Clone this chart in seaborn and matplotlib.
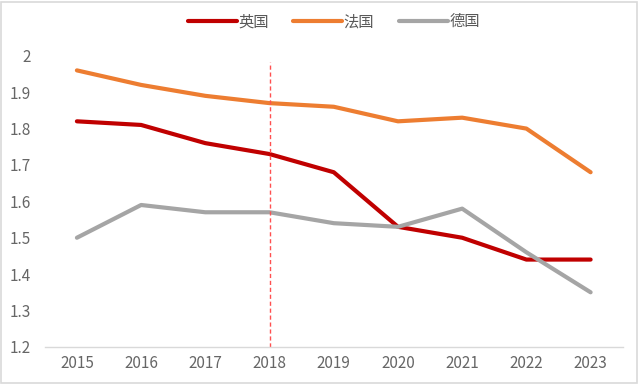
import numpy as np
import pandas as pd
import matplotlib
matplotlib.use("Agg")
import matplotlib.pyplot as plt
import seaborn as sns
from matplotlib.patches import Rectangle

# data
years = ["2015", "2016", "2017", "2018", "2019", "2020", "2021", "2022", "2023"]
uk = [1.82, 1.81, 1.76, 1.73, 1.68, 1.53, 1.50, 1.44, 1.44]
france = [1.96, 1.92, 1.89, 1.87, 1.86, 1.82, 1.83, 1.80, 1.68]
germany = [1.50, 1.59, 1.57, 1.57, 1.54, 1.53, 1.58, 1.46, 1.35]
series = ["英国", "法国", "德国"]
yticks = [1.2, 1.3, 1.4, 1.5, 1.6, 1.7, 1.8, 1.9, 2.0]
ytick_labels = ["1.2", "1.3", "1.4", "1.5", "1.6", "1.7", "1.8", "1.9", "2"]
mark_year = "2018"

df = pd.DataFrame({
    "year": years * 3,
    "value": uk + france + germany,
    "country": [series[0]] * 9 + [series[1]] * 9 + [series[2]] * 9,
})

sns.set_style("white")
plt.rcParams["font.family"] = ["Noto Sans CJK SC", "DejaVu Sans"]

fig = plt.figure(figsize=(6.4, 3.85), dpi=100)
ax = fig.add_axes([0.07, 0.099, 0.903, 0.756])

palette = {"英国": "#C00000", "法国": "#ED7D31", "德国": "#A5A5A5"}
sns.lineplot(data=df, x="year", y="value", hue="country", palette=palette,
             linewidth=3, sort=False, ax=ax)

ax.set_xlim(-0.5, len(years) - 0.5)
ax.set_ylim(1.2, 2.0)
ax.set_yticks(yticks)
ax.set_yticklabels(ytick_labels)
ax.set_xlabel("")
ax.set_ylabel("")
ax.tick_params(axis="both", colors="#666666", labelsize=11, length=0)
ax.tick_params(axis="y", pad=10)
ax.tick_params(axis="x", pad=6)

for s in ["top", "right", "left"]:
    ax.spines[s].set_visible(False)
ax.spines["bottom"].set_color("#D9D9D9")
ax.spines["bottom"].set_linewidth(1)

# vertical marker at 2018
ax.axvline(years.index(mark_year), ymin=0, ymax=0.98, color="#FF5050",
           linestyle=(0, (3, 2)), linewidth=1)

leg = ax.legend(loc="center", bbox_to_anchor=(0.5, 1.117), ncol=3,
                frameon=False, fontsize=11, handlelength=3.2,
                handletextpad=0.1, columnspacing=1.6)
for t in leg.get_texts():
    t.set_color("#595959")

fig.patches.append(Rectangle((0.002, 0.004), 0.994, 0.99, transform=fig.transFigure,
                             fill=False, edgecolor="#D9D9D9", linewidth=1.2))

fig.savefig("out.png", dpi=100)
